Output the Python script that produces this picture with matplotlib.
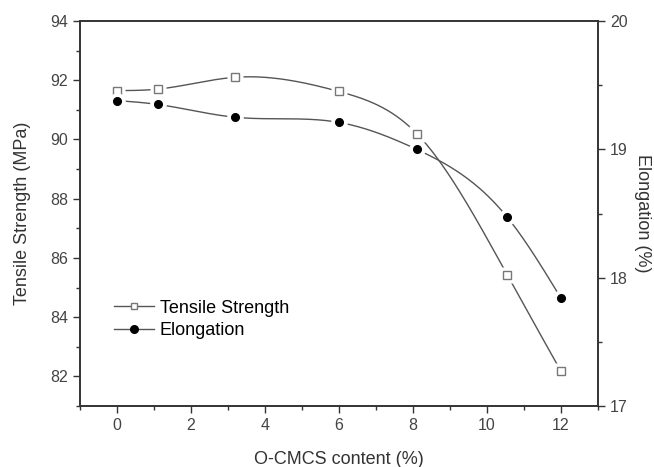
import numpy as np
import matplotlib.pyplot as plt
from matplotlib.ticker import MultipleLocator

plt.rcParams['font.family'] = ['Liberation Sans', 'DejaVu Sans']

content = [0, 1.1, 3.2, 6, 8.1, 10.55, 12]
tensile = [91.65, 91.7, 92.1, 91.62, 90.2, 85.42, 82.17]
elongation = [19.38, 19.35, 19.25, 19.21, 19.0, 18.47, 17.84]


def spline(x, y, n=300):
    # natural cubic spline through the points, only for drawing the curve
    x = np.asarray(x, float)
    y = np.asarray(y, float)
    k = len(x)
    h = np.diff(x)
    A = np.zeros((k, k))
    b = np.zeros(k)
    A[0, 0] = A[-1, -1] = 1
    for i in range(1, k - 1):
        A[i, i - 1] = h[i - 1]
        A[i, i] = 2 * (h[i - 1] + h[i])
        A[i, i + 1] = h[i]
        b[i] = 6 * ((y[i + 1] - y[i]) / h[i] - (y[i] - y[i - 1]) / h[i - 1])
    M = np.linalg.solve(A, b)
    xs = np.linspace(x[0], x[-1], n)
    idx = np.clip(np.searchsorted(x, xs) - 1, 0, k - 2)
    x0, x1 = x[idx], x[idx + 1]
    hh = x1 - x0
    ys = (M[idx] * (x1 - xs) ** 3 + M[idx + 1] * (xs - x0) ** 3) / (6 * hh) \
        + (y[idx] / hh - M[idx] * hh / 6) * (x1 - xs) \
        + (y[idx + 1] / hh - M[idx + 1] * hh / 6) * (xs - x0)
    return xs, ys


fig = plt.figure(figsize=(6.54, 4.67), dpi=100)
ax = fig.add_axes([0.1223, 0.1306, 0.7921, 0.8244])
ax2 = ax.twinx()

lc = '#555555'
xs, ys = spline(content, tensile)
ax.plot(xs, ys, color=lc, lw=1, zorder=1)
ax.plot(content, tensile, 's', ms=12, color='white', mec='none', zorder=2)
ax.plot(content, tensile, 's', ms=5.5, mfc='white', mec='#777777', mew=1, zorder=3)

xs, ys = spline(content, elongation)
ax2.plot(xs, ys, color=lc, lw=1, zorder=1)
ax2.plot(content, elongation, 'o', ms=12, color='white', mec='none', zorder=2)
ax2.plot(content, elongation, 'o', ms=5.5, color='black', zorder=3)

ax.set_xlim(-1, 13)
ax.set_ylim(81, 94)
ax2.set_ylim(17, 20)

ax.xaxis.set_major_locator(MultipleLocator(2))
ax.xaxis.set_minor_locator(MultipleLocator(1))
ax.yaxis.set_major_locator(MultipleLocator(2))
ax.yaxis.set_minor_locator(MultipleLocator(1))
ax2.yaxis.set_major_locator(MultipleLocator(1))
ax2.yaxis.set_minor_locator(MultipleLocator(0.5))

for a in (ax, ax2):
    for s in a.spines.values():
        s.set_linewidth(1.2)
        s.set_color('#333333')
    a.tick_params(which='major', length=5, width=1, colors='#333333', labelsize=11.5, labelcolor='#444444')
    a.tick_params(which='minor', length=3, width=1, colors='#333333')
ax.tick_params(axis='x', which='both', top=False)

ax.set_xlabel('O-CMCS content (%)', fontsize=13, color='#333333', labelpad=13)
ax.set_ylabel('Tensile Strength (MPa)', fontsize=13, color='#333333', labelpad=14)
ax2.set_ylabel('Elongation (%)', fontsize=13, color='#333333', rotation=270, labelpad=17)

h1, = ax.plot([], [], '-s', color=lc, lw=1, ms=5, mfc='white', mec='#777777')
h2, = ax.plot([], [], '-o', color=lc, lw=1, ms=5.5, mfc='black', mec='black')
ax.legend([h1, h2], ['Tensile Strength', 'Elongation'], loc='center left',
          bbox_to_anchor=(0.035, 0.225), frameon=False, fontsize=13,
          handlelength=2.2, handletextpad=0.3, labelspacing=0.3)

fig.savefig('out.png', dpi=100)
